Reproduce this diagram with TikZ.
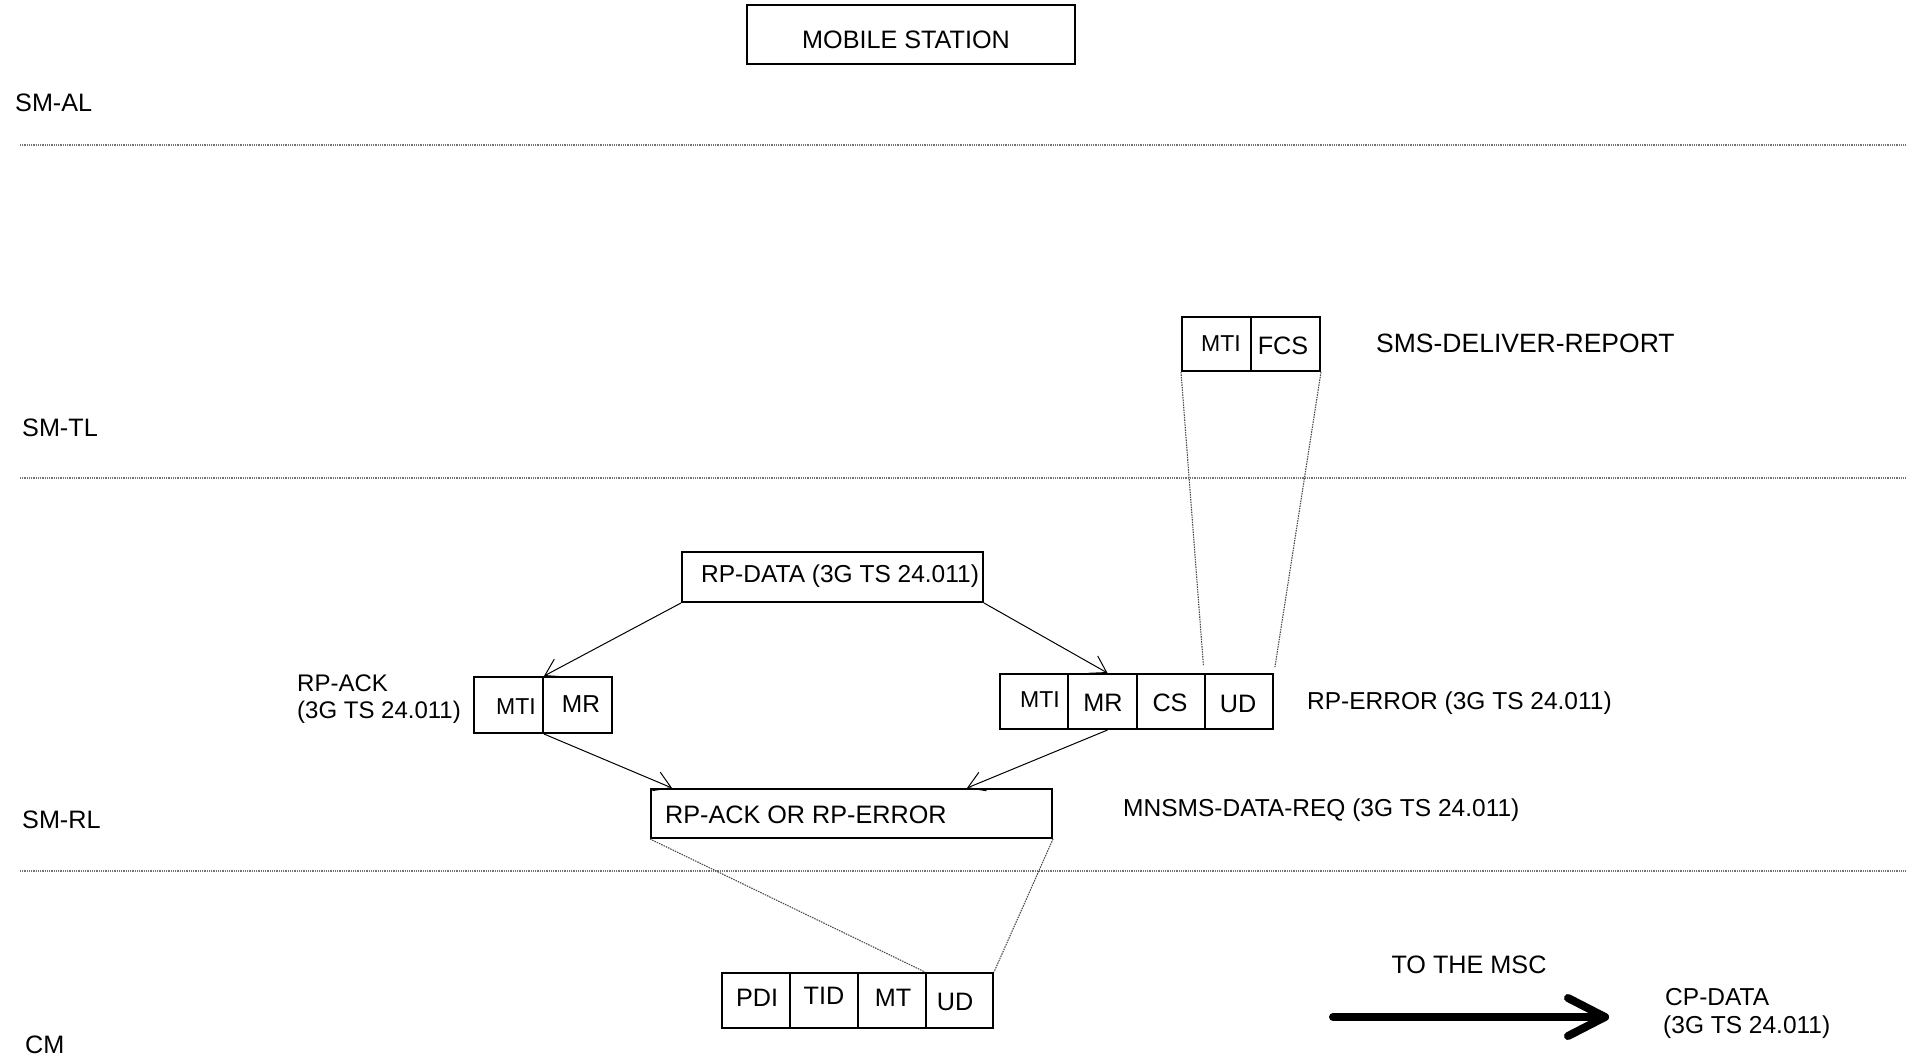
\documentclass[tikz,border=0pt]{standalone}
\usepackage{fontspec}
\setmainfont{Liberation Sans}
\usetikzlibrary{arrows.meta,calc}
\begin{document}
\begin{tikzpicture}[x=1pt,y=-1pt,
  txt/.style={inner sep=0pt, font=\fontsize{25.2}{29}\selectfont},
  midtxt/.style={inner sep=0pt, font=\fontsize{24.5}{29}\selectfont},
  bigtxt/.style={inner sep=0pt, font=\fontsize{26.5}{30}\selectfont},
  smalltxt/.style={inner sep=0pt, font=\fontsize{23}{28}\selectfont},
  cellbox/.style={draw, line width=2pt, inner sep=0pt},
  titlebox/.style={draw, line width=1.3pt, inner sep=0pt},
  layerline/.style={line width=1.2pt, black!55, dash pattern=on 1pt off 0.8pt},
  mapline/.style={line width=1.1pt, black!70, dash pattern=on 1.5pt off 1pt},
  flow/.style={line width=1pt, -{Straight Barb[length=16pt,width=20pt,line width=1pt]}},
  bigarrow/.style={line width=8pt, line cap=round, line join=round}
]
\useasboundingbox (0,0) rectangle (1906,1056);

% title
\node[titlebox, minimum width=328pt, minimum height=59pt] (ms) at (911,34.5) {};
\node[txt, anchor=base] (mstxt) at (906,49) {MOBILE STATION};

% layer labels
\node[txt, anchor=base west] (smal) at (15,112) {SM-AL};
\node[txt, anchor=base west] (smtl) at (22,436) {SM-TL};
\node[txt, anchor=base west] (smrl) at (22,828) {SM-RL};
\node[txt, anchor=base west] (cmlab) at (25,1053) {CM};

% layer separator lines
\coordinate (l1a) at (20,145);  \coordinate (l1b) at (1906,145);
\coordinate (l2a) at (20,478);  \coordinate (l2b) at (1906,478);
\coordinate (l3a) at (20,871);  \coordinate (l3b) at (1906,871);
\draw[layerline] (l1a) -- (l1b);
\draw[layerline] (l2a) -- (l2b);
\draw[layerline] (l3a) -- (l3b);

% SMS-DELIVER-REPORT
\node[cellbox, minimum width=69pt, minimum height=54pt] (dr1) at (1216.5,344) {};
\node[cellbox, minimum width=69pt, minimum height=54pt] (dr2) at (1285.5,344) {};
\node[smalltxt, anchor=base] (dr1t) at (1221,352) {MTI};
\node[txt, anchor=base] (dr2t) at (1283,355) {FCS};
\node[bigtxt, anchor=base west] (drlab) at (1376,353) {SMS-DELIVER-REPORT};

% RP-DATA
\node[cellbox, minimum width=301pt, minimum height=50pt] (rpdata) at (832.5,577) {};
\node[midtxt, anchor=base west] (rpdatat) at (701,582) {RP-DATA (3G TS 24.011)};

% RP-ACK
\node[cellbox, minimum width=69pt, minimum height=56pt] (ack1) at (508.5,705) {};
\node[cellbox, minimum width=69pt, minimum height=56pt] (ack2) at (577.5,705) {};
\node[smalltxt, anchor=base] (ack1t) at (516,714) {MTI};
\node[midtxt, anchor=base] (ack2t) at (581,712) {MR};
\node[smalltxt, font=\fontsize{24}{28}\selectfont, anchor=base west] (acklab1) at (297,691) {RP-ACK};
\node[smalltxt, font=\fontsize{24}{28}\selectfont, anchor=base west] (acklab2) at (297,718) {(3G TS 24.011)};

% RP-ERROR
\node[cellbox, minimum width=68pt, minimum height=55pt] (err1) at (1034,701.5) {};
\node[cellbox, minimum width=69pt, minimum height=55pt] (err2) at (1102.5,701.5) {};
\node[cellbox, minimum width=68pt, minimum height=55pt] (err3) at (1171,701.5) {};
\node[cellbox, minimum width=68pt, minimum height=55pt] (err4) at (1239,701.5) {};
\node[smalltxt, anchor=base] (err1t) at (1040,707) {MTI};
\node[txt, anchor=base] (err2t) at (1103,711) {MR};
\node[txt, anchor=base] (err3t) at (1170,711) {CS};
\node[txt, anchor=base] (err4t) at (1238,712) {UD};
\node[midtxt, anchor=base west] (errlab) at (1307,709) {RP-ERROR (3G TS 24.011)};

% RP-ACK OR RP-ERROR
\node[cellbox, minimum width=401pt, minimum height=49pt] (ackerr) at (851.5,813.5) {};
\node[txt, anchor=base west] (ackerrt) at (665,823) {RP-ACK OR RP-ERROR};
\node[midtxt, anchor=base west] (mnsms) at (1123,816) {MNSMS-DATA-REQ (3G TS 24.011)};

% CP-DATA cells
\node[cellbox, minimum width=68pt, minimum height=55pt] (cm1) at (756,1000.5) {};
\node[cellbox, minimum width=68pt, minimum height=55pt] (cm2) at (824,1000.5) {};
\node[cellbox, minimum width=68pt, minimum height=55pt] (cm3) at (892,1000.5) {};
\node[cellbox, minimum width=67pt, minimum height=55pt] (cm4) at (959.5,1000.5) {};
\node[txt, anchor=base] (cm1t) at (757,1006) {PDI};
\node[txt, anchor=base] (cm2t) at (824,1004) {TID};
\node[txt, anchor=base] (cm3t) at (893,1006) {MT};
\node[txt, anchor=base] (cm4t) at (955,1010) {UD};

% to the MSC
\node[txt, anchor=base] (msc) at (1469,973) {TO THE MSC};
\node[midtxt, anchor=base west] (cpd1) at (1665,1005) {CP-DATA};
\node[midtxt, anchor=base west] (cpd2) at (1663,1033) {(3G TS 24.011)};
\coordinate (ba) at (1333,1017);
\coordinate (bb) at (1605,1017);
\coordinate (bc1) at (1568,998);
\coordinate (bc2) at (1568,1036);
\draw[bigarrow] (ba) -- (bb);
\draw[bigarrow] (bc1) -- (bb) -- (bc2);

% flow arrows
\draw[flow] (rpdata.south west) -- (ack1.north east);
\draw[flow] (rpdata.south east) -- ($(err2.north)+(5,0)$);
\draw[flow] (ack1.south east) -- ($(ackerr.north west)+(22,0)$);
\draw[flow] ($(err2.south)+(5,0)$) -- ($(ackerr.north east)+(-86,0)$);

% mapping lines
\draw[mapline, shorten >=8pt] (dr1.south west) -- (err4.north west);
\draw[mapline, shorten >=6pt] (dr2.south east) -- (err4.north east);
\draw[mapline] (ackerr.south west) -- (cm4.north west);
\draw[mapline] (ackerr.south east) -- (cm4.north east);
\end{tikzpicture}
\end{document}
